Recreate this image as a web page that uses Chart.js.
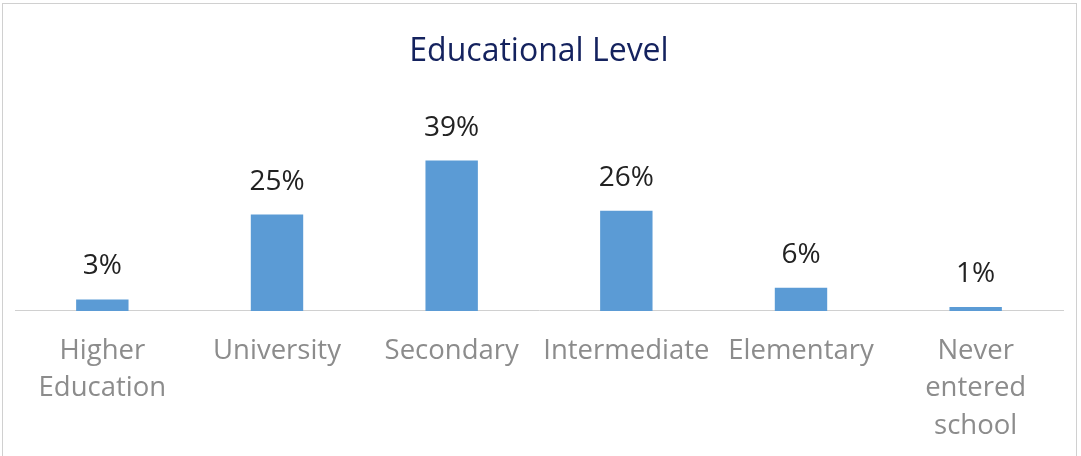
<!DOCTYPE html>
<html>
<head>
<meta charset="utf-8">
<script src="https://cdn.jsdelivr.net/npm/chart.js@4/dist/chart.umd.min.js"></script>
<style>
  html, body { margin: 0; padding: 0; background: #fff; }
  #wrap { position: relative; width: 1081px; height: 456px; }
  #frame { position: absolute; left: 2px; top: 3px; width: 1075px; height: 460px; border: 1px solid #d0d0d0; box-sizing: border-box; pointer-events: none; }
</style>
</head>
<body>
<div id="wrap">
  <canvas id="edu-chart" width="1081" height="456"></canvas>
  <div id="frame"></div>
</div>
<script>
var categories = [
    ['Higher', 'Education'],
    'University',
    'Secondary',
    'Intermediate',
    'Elementary',
    ['Never', 'entered', 'school']
];
var percents = [3, 25, 39, 26, 6, 1];
var chartTitle = 'Educational Level';

var fontName = '"Open Sans", Lato, sans-serif';

// draws the "39%" style labels above each bar
var valueLabels = {
    id: 'valueLabels',
    afterDatasetsDraw: (chart) => {
        var c = chart.ctx;
        var meta = chart.getDatasetMeta(0);
        c.save();
        c.font = '28px ' + fontName;
        c.fillStyle = '#222222';
        c.textAlign = 'center';
        c.textBaseline = 'middle';
        meta.data.forEach((bar, i) => {
            c.fillText(percents[i] + '%', bar.x, bar.y - 33);
        });
        c.restore();
    }
};

var ctx = document.getElementById('edu-chart').getContext('2d');
var chart = new Chart(ctx, {
    type: 'bar',
    data: {
        labels: categories,
        datasets: [{
            label: chartTitle,
            data: percents,
            backgroundColor: '#5b9bd5',
            borderWidth: 0,
            categoryPercentage: 1,
            barPercentage: 0.3
        }]
    },
    options: {
        responsive: false,
        animation: false,
        layout: { padding: { left: 15, right: 18, top: 0, bottom: -10 } },
        plugins: {
            legend: { display: false },
            tooltip: { enabled: false },
            title: {
                display: true,
                text: chartTitle,
                color: '#14225e',
                font: { family: fontName, size: 32, weight: 'normal' },
                padding: { top: 33, bottom: 66 }
            }
        },
        scales: {
            x: {
                grid: { display: false, drawTicks: false },
                border: { display: true, color: '#d0d0d0', width: 1 },
                ticks: {
                    color: '#8c8c8c',
                    font: { family: fontName, size: 27.5, lineHeight: 1.37 },
                    padding: 21,
                    maxRotation: 0,
                    autoSkip: false
                }
            },
            y: {
                display: false,
                min: 0,
                max: 45
            }
        }
    },
    plugins: [valueLabels]
});
</script>
</body>
</html>
